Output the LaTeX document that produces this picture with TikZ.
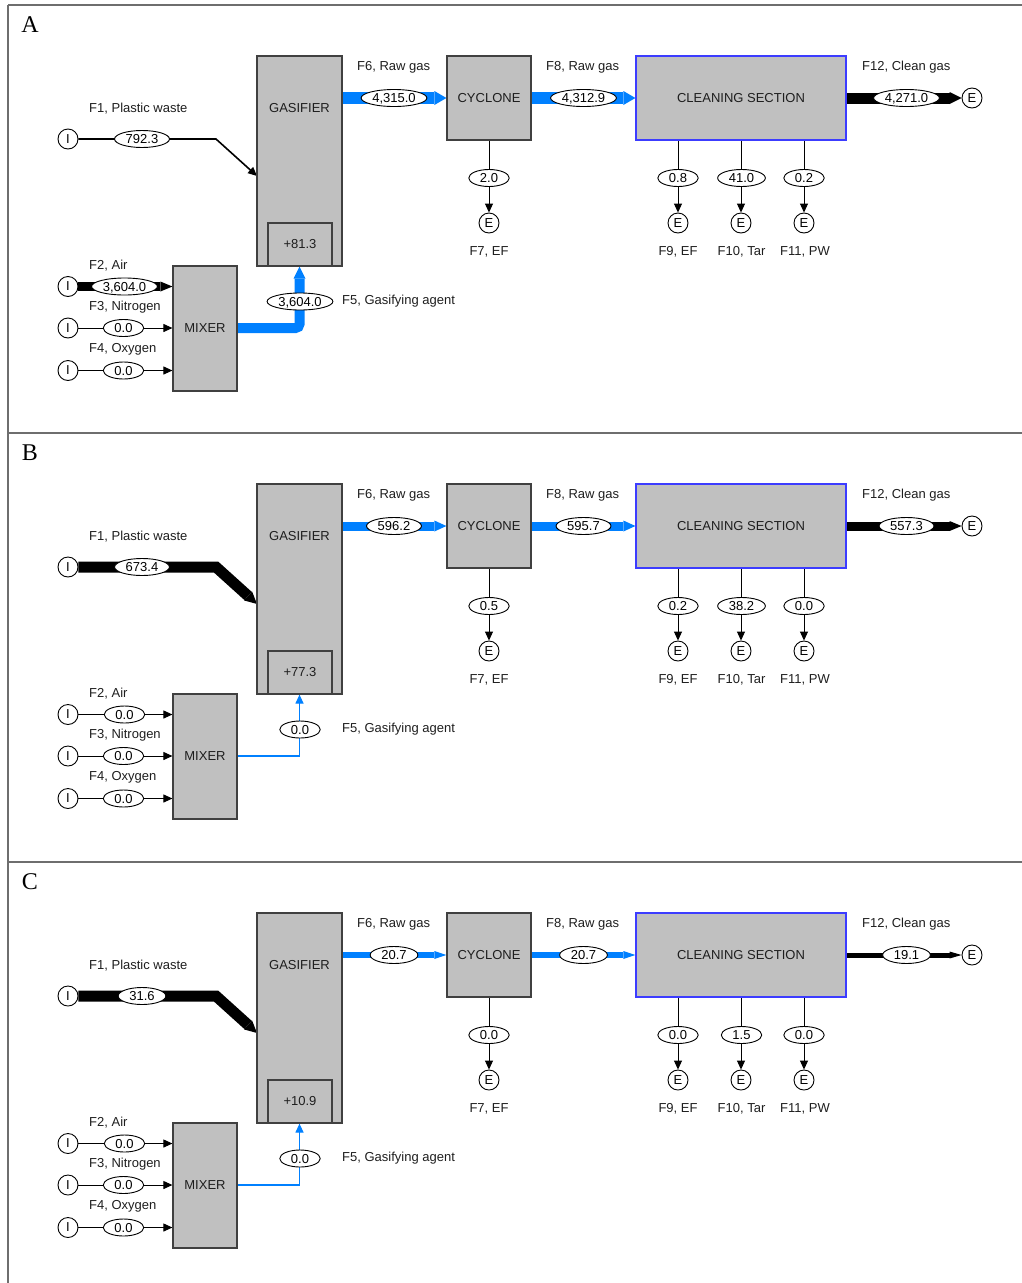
\documentclass[tikz,border=0pt]{standalone}
\usepackage{fontspec}
\setmainfont{Liberation Sans}
\newfontfamily\letterfont{Liberation Serif}
\usetikzlibrary{arrows.meta,shapes.geometric,calc}
\definecolor{boxgray}{RGB}{192,192,192}
\definecolor{boxedge}{RGB}{64,64,64}
\definecolor{cleanblue}{RGB}{60,60,255}
\definecolor{flowblue}{RGB}{0,128,255}
\definecolor{framegray}{RGB}{110,110,110}
\definecolor{textc}{RGB}{30,30,30}
\pgfdeclarelayer{bg}
\pgfsetlayers{bg,main}
\newcommand\valfont{\fontsize{13}{15}\selectfont}
\newcommand\valnode[3]{%
  \node[lab, inner xsep=11pt, inner ysep=0pt, text opacity=0] (#1m) at (#2) {#3};
  \path let \p1=($(#1m.east)-(#1m.west)$) in
    node[valsty,minimum width=\x1] (#1) at (#2) {#3};}
\tikzset{
 box/.style={draw=boxedge, fill=boxgray, line width=1.2pt, inner sep=0pt, font=\valfont, text=textc},
 port/.style={circle, draw, fill=white, line width=0.9pt, minimum size=20pt, inner sep=0pt, font=\valfont},
 valsty/.style={ellipse, draw, fill=white, line width=0.9pt, minimum height=17pt, inner sep=0pt, text height=9.3pt, text depth=0pt, font=\valfont},
 lab/.style={font=\valfont, inner sep=0pt, text=textc},
 frame/.style={draw=framegray, line width=1.4pt},
 thinarrow/.style={draw=black, line width=1pt, -{Triangle[length=9pt,width=8pt]}},
 thinblue/.style={draw=flowblue, line width=1.2pt, -{Triangle[length=9pt,width=8pt]}},
 band/.style n args={3}{draw=#1, line width=#2, -{Triangle[length=12pt,width=#3,line width=0pt]}},
}
\newcommand\drawpanel[3]{%
\begin{scope}[shift={(0,#2)}]
\draw[frame] (8,5) -- (1022,5);
\node[font=\letterfont\fontsize{24}{24}\selectfont, inner sep=0pt] (#1let) at (30,25) {#3};
% boxes
\node[box,minimum width=85pt,minimum height=210pt] (#1gas) at (299.5,161) {};
\node[lab] (#1gast) at (299.5,108.5) {GASIFIER};
\node[box,minimum width=64pt,minimum height=43pt] (#1heat) at (300,244.5) {\Vh};
\node[box,minimum width=84pt,minimum height=84pt] (#1cyc) at (489,98) {CYCLONE};
\node[box,draw=cleanblue,minimum width=210pt,minimum height=84pt] (#1cln) at (741,98) {CLEANING SECTION};
\node[box,minimum width=64pt,minimum height=125pt] (#1mix) at (205,328.5) {MIXER};
% ports
\node[port] (#1i1) at (68,139) {I};
\node[port] (#1i2) at (68,286.5) {I};
\node[port] (#1i3) at (68,328) {I};
\node[port] (#1i4) at (68,370.5) {I};
\node[port] (#1e7) at (489,223) {E};
\node[port] (#1e9) at (678,223) {E};
\node[port] (#1e10) at (741,223) {E};
\node[port] (#1e11) at (804,223) {E};
\node[port] (#1e12) at (972,98) {E};
% values
\valnode{#1v1}{142,139}{\Vone}
\valnode{#1v2}{124.5,286.5}{\Vtwo}
\valnode{#1v3}{123.5,328}{\Vthree}
\valnode{#1v4}{123.5,370.5}{\Vfour}
\valnode{#1v5}{300,301.5}{\Vfive}
\valnode{#1v6}{394,98}{\Vsix}
\valnode{#1v8}{583.5,98}{\Veight}
\valnode{#1v12}{906.5,98}{\Vtwelve}
\valnode{#1v7}{489,178}{\Vseven}
\valnode{#1v9}{678,178}{\Vnine}
\valnode{#1v10}{741.5,178}{\Vten}
\valnode{#1v11}{804,178}{\Veleven}
% labels
\node[lab,anchor=west] (#1l1) at (89,108.5) {F1, Plastic waste};
\node[lab,anchor=west] (#1l2) at (89,266) {F2, Air};
\node[lab,anchor=west] (#1l3) at (89,307.5) {F3, Nitrogen};
\node[lab,anchor=west] (#1l4) at (89,349.5) {F4, Oxygen};
\node[lab,anchor=west] (#1l5) at (342,301.5) {F5, Gasifying agent};
\node[lab,anchor=west] (#1l6) at (357,67) {F6, Raw gas};
\node[lab,anchor=west] (#1l8) at (546,67) {F8, Raw gas};
\node[lab,anchor=west] (#1l12) at (862,67) {F12, Clean gas};
\node[lab] (#1l7) at (489,252) {F7, EF};
\node[lab] (#1l9) at (678,252) {F9, EF};
\node[lab] (#1l10) at (741.5,252) {F10, Tar};
\node[lab] (#1l11) at (805,252) {F11, PW};
\coordinate (#1f1a) at (216,139);
\coordinate (#1f1b) at (257,176);
\begin{pgfonlayer}{bg}
\draw[fonesty] (#1i1) -- (#1f1a) -- (#1f1b);
\draw[ftwosty] (#1i2) -- (#1i2 -| #1mix.west);
\draw[thinarrow] (#1i3) -- (#1i3 -| #1mix.west);
\draw[thinarrow] (#1i4) -- (#1i4 -| #1mix.west);
\draw[ffivesty] (#1mix.east |- #1i3) -| (#1gas.south);
\draw[fsixsty] (#1gas.east |- #1cyc.west) -- (#1cyc.west);
\draw[feightsty] (#1cyc.east) -- (#1cln.west);
\draw[ftwelvesty] (#1cln.east) -- (#1e12);
\draw[thinarrow] (#1cyc.south) -- (#1e7);
\draw[thinarrow] (#1cln.south -| #1e9) -- (#1e9);
\draw[thinarrow] (#1cln.south -| #1e10) -- (#1e10);
\draw[thinarrow] (#1cln.south -| #1e11) -- (#1e11);
\end{pgfonlayer}
\end{scope}}
\begin{document}
\begin{tikzpicture}[x=1pt,y=-1pt]
\useasboundingbox (0,0) rectangle (1022,1283);
\draw[frame] (8,5) -- (8,1283);
% Panel A
\def\Vone{792.3}\def\Vtwo{3,604.0}\def\Vthree{0.0}\def\Vfour{0.0}\def\Vfive{3,604.0}
\def\Vsix{4,315.0}\def\Vseven{2.0}\def\Veight{4,312.9}\def\Vnine{0.8}\def\Vten{41.0}
\def\Veleven{0.2}\def\Vtwelve{4,271.0}\def\Vh{+81.3}
\tikzset{fonesty/.style={thinarrow, line width=1.6pt},
 ftwosty/.style={band={black}{9pt}{10pt}},
 ffivesty/.style={band={flowblue}{10pt}{12pt}, rounded corners=4pt},
 fsixsty/.style={band={flowblue}{12pt}{14pt}},
 feightsty/.style={band={flowblue}{12pt}{14pt}},
 ftwelvesty/.style={band={black}{11pt}{12pt}}}
\drawpanel{A}{0}{A}
% Panel B
\def\Vone{673.4}\def\Vtwo{0.0}\def\Vthree{0.0}\def\Vfour{0.0}\def\Vfive{0.0}
\def\Vsix{596.2}\def\Vseven{0.5}\def\Veight{595.7}\def\Vnine{0.2}\def\Vten{38.2}
\def\Veleven{0.0}\def\Vtwelve{557.3}\def\Vh{+77.3}
\tikzset{fonesty/.style={band={black}{11pt}{12pt}},
 ftwosty/.style={thinarrow},
 ffivesty/.style={thinblue},
 fsixsty/.style={band={flowblue}{9pt}{11pt}},
 feightsty/.style={band={flowblue}{9pt}{11pt}},
 ftwelvesty/.style={band={black}{9pt}{10pt}}}
\drawpanel{B}{428}{B}
% Panel C
\def\Vone{31.6}\def\Vtwo{0.0}\def\Vthree{0.0}\def\Vfour{0.0}\def\Vfive{0.0}
\def\Vsix{20.7}\def\Vseven{0.0}\def\Veight{20.7}\def\Vnine{0.0}\def\Vten{1.5}
\def\Veleven{0.0}\def\Vtwelve{19.1}\def\Vh{+10.9}
\tikzset{fonesty/.style={band={black}{11pt}{12pt}},
 ftwosty/.style={thinarrow},
 ffivesty/.style={thinblue},
 fsixsty/.style={band={flowblue}{6pt}{8pt}},
 feightsty/.style={band={flowblue}{6pt}{8pt}},
 ftwelvesty/.style={band={black}{5pt}{7pt}}}
\drawpanel{C}{857}{C}
\end{tikzpicture}
\end{document}
